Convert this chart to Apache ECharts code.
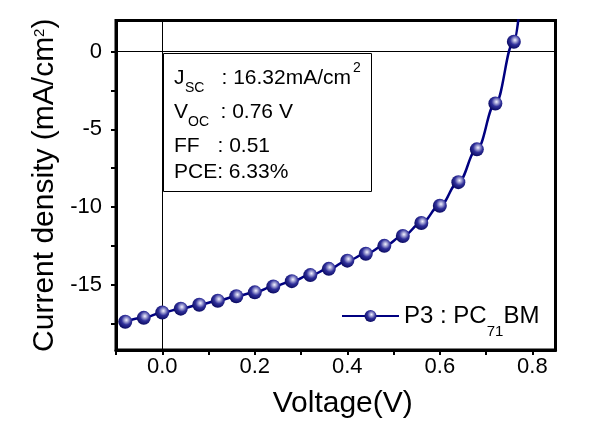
<!DOCTYPE html>
<html>
<head>
<meta charset="utf-8">
<script src="https://cdn.jsdelivr.net/npm/echarts@6/dist/echarts.min.js"></script>
<style>
html,body{margin:0;padding:0;background:#fff;}
#chart{width:614px;height:424px;}
</style>
</head>
<body>
<div id="chart"></div>
<script>
// ---- data ----
var voltage = [-0.08,-0.04,0.00,0.04,0.08,0.12,0.16,0.20,0.24,0.28,0.32,0.36,0.40,0.44,0.48,0.52,0.56,0.60,0.64,0.68,0.72,0.76];
var current = [-17.38,-17.13,-16.79,-16.54,-16.29,-16.03,-15.74,-15.49,-15.11,-14.77,-14.38,-13.98,-13.45,-13.01,-12.50,-11.87,-11.03,-9.92,-8.40,-6.29,-3.34,0.63];
// fitted curve continues past the last measured point (leaves the plot at the top)
var tailVoltage = [0.775];
var tailCurrent = [3.5];

var xTickValues = [-0.1,0.0,0.1,0.2,0.3,0.4,0.5,0.6,0.7,0.8];
var xLabelValues = [0.0,0.2,0.4,0.6,0.8];
var yTickValues = [0,-2.5,-5,-7.5,-10,-12.5,-15,-17.5];
var yLabelValues = [0,-5,-10,-15];

var seriesName = 'P3 : PC71BM';
var paramJsc = '16.32mA/cm';
var paramVoc = '0.76 V';
var paramFF = '0.51';
var paramPCE = '6.33%';

// ---- build chart ----
var FONT = 'Liberation Sans, Arial, sans-serif';
var navy = '#000080';
var sphere = {
  type: 'radial', x: 0.58, y: 0.38, r: 0.62,
  colorStops: [
    {offset: 0, color: '#f4f4ff'},
    {offset: 0.22, color: '#a8a8d8'},
    {offset: 0.55, color: '#30309a'},
    {offset: 1, color: '#0a0a62'}
  ]
};

var data = voltage.map(function (v, i) { return [v, current[i]]; });
tailVoltage.forEach(function (v, i) {
  data.push({value: [v, tailCurrent[i]], symbol: 'none'});
});

var chart = echarts.init(document.getElementById('chart'), null, {renderer: 'canvas'});

function t(text, x, y, size) {
  return {
    type: 'text', x: x, y: y, z: 100,
    style: {text: text, font: size + 'px ' + FONT, fill: '#000', verticalAlign: 'middle', align: 'left'}
  };
}

chart.setOption({
  animation: false,
  backgroundColor: '#fff',
  textStyle: {fontFamily: FONT},
  grid: {
    left: 116, right: 58.5, top: 20.5, bottom: 70,
    show: true, borderColor: '#000', borderWidth: 3, containLabel: false
  },
  xAxis: {
    type: 'value', min: -0.1, max: 0.85,
    name: 'Voltage(V)', nameLocation: 'middle', nameGap: 39,
    nameTextStyle: {fontSize: 30, color: '#000', fontFamily: FONT, padding: [0, 0, 0, 14]},
    axisLine: {onZero: false, lineStyle: {color: '#000', width: 3}},
    axisTick: {show: true, inside: false, length: 5, customValues: xTickValues, lineStyle: {color: '#000', width: 2}},
    axisLabel: {customValues: xLabelValues, fontSize: 22, color: '#000', margin: 6, fontFamily: FONT,
      formatter: function (v) { return (Math.abs(v) < 1e-9 ? 0 : v).toFixed(1); }},
    splitLine: {show: false}
  },
  yAxis: {
    type: 'value', min: -19.2, max: 2,
    name: '{a|Current density (mA/cm}{s|2}{a|)}', nameLocation: 'middle', nameGap: 47,
    nameTextStyle: {color: '#000', fontFamily: FONT,
      rich: {
        a: {fontSize: 30, fontFamily: FONT, color: '#000'},
        s: {fontSize: 15, fontFamily: FONT, color: '#000', verticalAlign: 'top', padding: [3, 0, 0, 0]}
      }},
    axisLine: {onZero: false, lineStyle: {color: '#000', width: 3}},
    axisTick: {show: true, inside: false, length: 5, customValues: yTickValues, lineStyle: {color: '#000', width: 2}},
    axisLabel: {customValues: yLabelValues, fontSize: 22, color: '#000', margin: 14, fontFamily: FONT},
    splitLine: {show: false}
  },
  legend: {
    left: 336, top: 288,
    itemWidth: 57, itemHeight: 15, itemGap: 7,
    formatter: function () { return 'P3 : PC{s|71}BM'; },
    textStyle: {
      fontSize: 24, color: '#000', fontFamily: FONT, lineHeight: 46,
      rich: {s: {fontSize: 15, fontFamily: FONT, color: '#000', verticalAlign: 'bottom', lineHeight: 15}}
    },
    data: [seriesName]
  },
  series: [{
    name: seriesName,
    type: 'line',
    data: data,
    smooth: 0.4,
    smoothMonotone: 'x',
    symbol: 'circle',
    symbolSize: 14,
    showSymbol: true,
    clip: true,
    lineStyle: {color: navy, width: 2.5},
    itemStyle: {color: sphere, borderWidth: 0},
    z: 5,
    markLine: {
      silent: true, symbol: 'none', animation: false,
      label: {show: false},
      lineStyle: {color: '#000', width: 1, type: 'solid'},
      data: [{xAxis: 0}, {yAxis: 0}],
      z: 1
    }
  }],
  graphic: [
    {type: 'rect', z: 90, shape: {x: 163.5, y: 53.5, width: 208, height: 138},
      style: {fill: '#fff', stroke: '#000', lineWidth: 1}},
    t('J', 174, 78, 21),
    t('SC', 185, 88, 14),
    t(': ' + paramJsc, 221.5, 78, 21),
    t('2', 353, 68, 14),
    t('V', 174, 112, 21),
    t('OC', 188, 122.5, 14),
    t(': ' + paramVoc, 220.5, 112, 21),
    t('FF', 174, 146, 21),
    t(': ' + paramFF, 217.5, 146, 21),
    t('PCE: ' + paramPCE, 174, 172, 21)
  ]
});
</script>
</body>
</html>
